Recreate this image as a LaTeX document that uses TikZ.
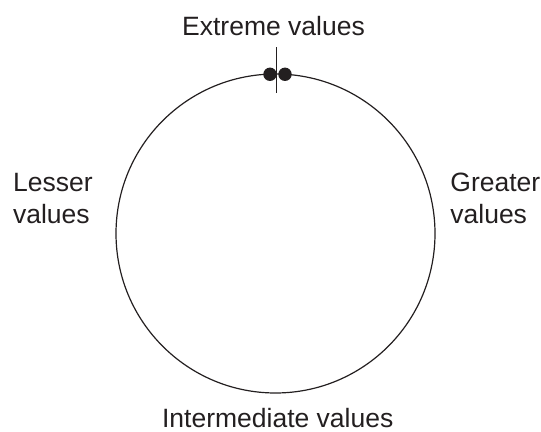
\documentclass[tikz,border=0pt]{standalone}
\usepackage{fontspec}
\setmainfont{Liberation Sans}
\usetikzlibrary{positioning}
\definecolor{inkgray}{HTML}{231F20}
\tikzset{
  every node/.style={text=inkgray, font=\fontsize{13.25}{15.85}\selectfont},
  ring/.style={circle, draw=inkgray, line width=0.6pt, minimum size=159.5pt, inner sep=0},
  dot/.style={circle, fill=inkgray, minimum size=6.7pt, inner sep=0},
  label/.style={inner sep=0, align=left},
  tick/.style={draw=inkgray, line width=0.45pt}
}
\begin{document}
\begin{tikzpicture}[x=0.5pt, y=-0.5pt]
  \useasboundingbox (0,0) rectangle (541,432);
  \node[ring] (ring) at (275.5,233.5) {};
  \node[dot] (left dot) at (270,74.3) {};
  \node[dot] (right dot) at (285,74.3) {};
  \coordinate (tick top) at (276.7,47.3);
  \coordinate (tick bottom) at (276.7,92.7);
  \draw[tick] (tick top) -- (tick bottom);
  \node[label, anchor=base] (extreme) at (273.5,36) {Extreme values};
  \node[label, anchor=base west] (lesser) at (12.7,223.3) {Lesser\\values};
  \node[label, anchor=base west] (greater) at (450,223.3) {Greater\\values};
  \node[label, anchor=base west] (intermediate) at (161.7,427.5) {Intermediate values};
\end{tikzpicture}
\end{document}
